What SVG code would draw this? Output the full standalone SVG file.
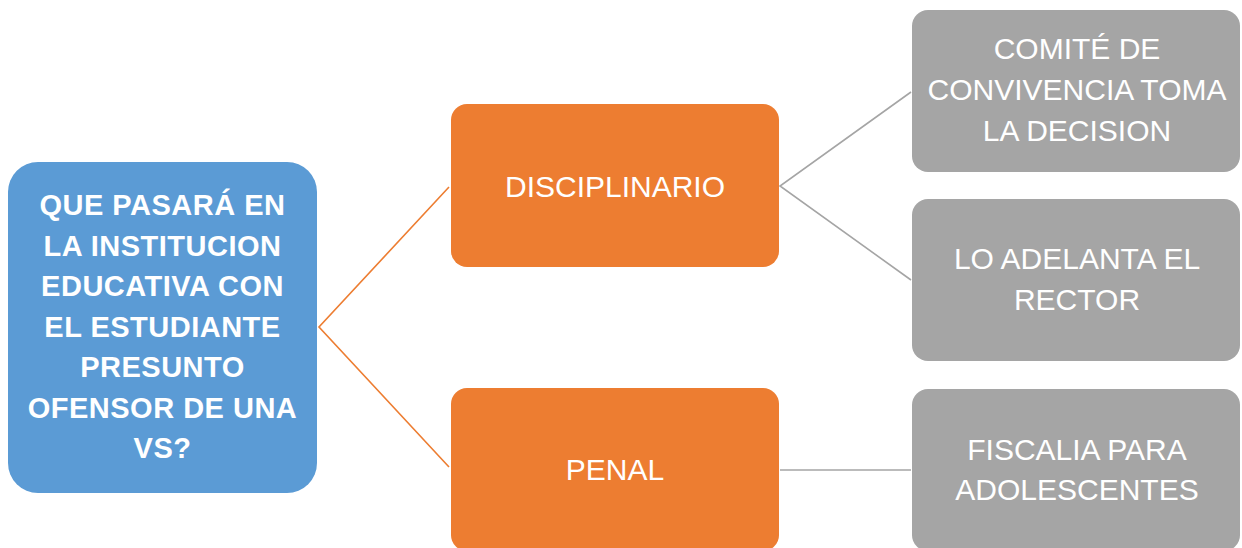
<svg xmlns="http://www.w3.org/2000/svg" width="1242" height="548" viewBox="0 0 1242 548">
<style>
.blue{fill:#5B9BD5}
.orange{fill:#ED7D31}
.gray{fill:#A5A5A5}
text{font-family:"Liberation Sans",Arial,sans-serif;fill:#FFFFFF;text-anchor:middle}
.b{font-weight:bold;font-size:29px;letter-spacing:0.5px}
.r{font-size:30px}
.c1{stroke:#ED7D31;stroke-width:1.6;fill:none}
.c2{stroke:#A5A5A5;stroke-width:1.6;fill:none}
</style>
<rect width="1242" height="548" fill="#FFFFFF"/>
<g id="connectors">
<polyline class="c1" points="449,187 319,327 449,467"/>
<polyline class="c2" points="911,92 780,186 911,280"/>
<line class="c2" x1="780" y1="470" x2="911" y2="470"/>
</g>
<g id="root">
<rect class="blue" x="8" y="162" width="309" height="331" rx="30"/>
<text class="b" x="162.5" y="215">QUE PASARÁ EN</text>
<text class="b" x="162.5" y="256">LA INSTITUCION</text>
<text class="b" x="162.5" y="296">EDUCATIVA CON</text>
<text class="b" x="162.5" y="337">EL ESTUDIANTE</text>
<text class="b" x="162.5" y="377">PRESUNTO</text>
<text class="b" x="162.5" y="418">OFENSOR DE UNA</text>
<text class="b" x="162.5" y="458">VS?</text>
</g>
<g id="disciplinario">
<rect class="orange" x="451" y="104" width="328" height="163" rx="16"/>
<text class="r" x="615" y="197">DISCIPLINARIO</text>
</g>
<g id="penal">
<rect class="orange" x="451" y="388" width="328" height="163" rx="16"/>
<text class="r" x="615" y="480">PENAL</text>
</g>
<g id="comite">
<rect class="gray" x="912" y="10" width="328" height="162" rx="16"/>
<text class="r" x="1077" y="59">COMITÉ DE</text>
<text class="r" x="1077" y="100">CONVIVENCIA TOMA</text>
<text class="r" x="1077" y="141">LA DECISION</text>
</g>
<g id="rector">
<rect class="gray" x="912" y="199" width="328" height="162" rx="16"/>
<text class="r" x="1077" y="269">LO ADELANTA EL</text>
<text class="r" x="1077" y="310">RECTOR</text>
</g>
<g id="fiscalia">
<rect class="gray" x="912" y="389" width="328" height="162" rx="16"/>
<text class="r" x="1077" y="460">FISCALIA PARA</text>
<text class="r" x="1077" y="500">ADOLESCENTES</text>
</g>
</svg>
